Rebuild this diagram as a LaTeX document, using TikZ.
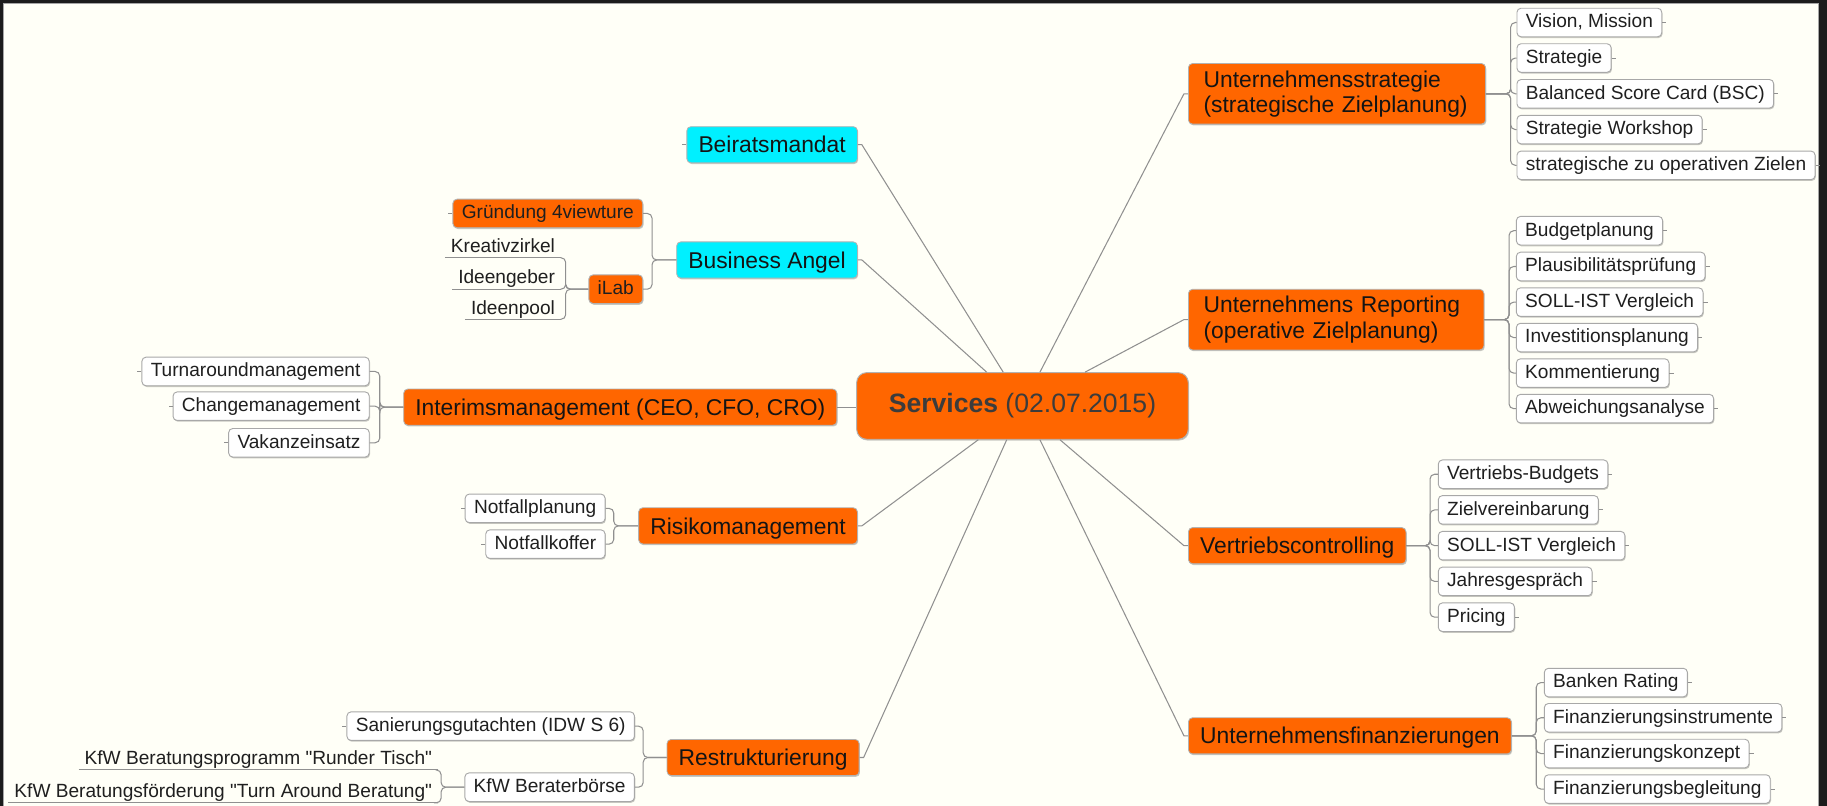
\documentclass[tikz,border=0pt]{standalone}
\usepackage{fontspec}
\setmainfont{Liberation Sans}[Ligatures=TeXOff]
\usetikzlibrary{calc,shadows}
\definecolor{bgc}{HTML}{FFFFF7}
\definecolor{org}{HTML}{FF6600}
\definecolor{cyn}{HTML}{00F0FF}
\definecolor{lnc}{HTML}{909090}
\definecolor{bdc}{HTML}{A8A8A8}
\definecolor{framec}{HTML}{1C1C1C}
\definecolor{ctext}{HTML}{3C3C3C}
\newcommand{\mmMain}{\fontsize{19.6}{21.5}\selectfont}
\newcommand{\mmLeaf}{\fontsize{16.4}{19}\selectfont}
\newcommand{\mmCen}{\fontsize{22.8}{26}\selectfont}
\tikzset{
  shd/.style={drop shadow={shadow xshift=0.7pt,shadow yshift=-1.1pt,opacity=0.22,fill=black}},
  mainbase/.style={rectangle, rounded corners=3.5pt, fill=org, draw=black!30, line width=0.7pt,
    font=\mmMain, text=black!92, inner ysep=0pt, shd},
  mainbox/.style={mainbase, inner xsep=10pt, minimum height=31pt, text height=14pt, text depth=0pt},
  twoline/.style={mainbase, inner xsep=13pt, align=left, minimum height=52pt},
  leafbox/.style={rectangle, rounded corners=3.5pt, fill=white, draw=bdc, line width=0.8pt,
    font=\mmLeaf, text=black!88, inner xsep=7.6pt, inner ysep=0pt, minimum height=24.5pt,
    text height=12pt, text depth=2.8pt, shd},
  orgleaf/.style={leafbox, fill=org, draw=black!30},
  uline/.style={rectangle, font=\mmLeaf, text=black!88, inner xsep=5pt, inner ysep=4.3pt,
    text height=12pt, text depth=0pt},
  conn/.style={draw=lnc, line width=0.9pt},
  brk/.style={conn, rounded corners=4pt},
  tick/.style={draw=lnc, line width=0.7pt},
  centerbox/.style={rectangle, rounded corners=8.5pt, fill=org, draw=black!30, line width=0.8pt,
    font=\mmCen, text=ctext, minimum width=284.6pt, minimum height=57.2pt, shd}
}
\begin{document}
\begin{tikzpicture}[x=1pt,y=-1pt]
\useasboundingbox (0,0) rectangle (1568,691.7);
\fill[framec] (0,0) rectangle (1568,691.7);
\fill[bgc, draw=black!35, line width=0.8pt] (2.6,3.2) rectangle (1560.5,700);

% center
\node[centerbox] (svc) at (877.5,348.4) {\textbf{Services} (02.07.2015)};

% left main topics
\node[mainbox, fill=cyn, anchor=east] (beirat) at (736.2,124.2) {Beiratsmandat};
\node[mainbox, fill=cyn, anchor=east] (angel) at (736.2,223.1) {Business Angel};
\node[mainbox, anchor=east] (interims) at (718.6,349.4) {Interimsmanagement (CEO, CFO, CRO)};
\node[mainbox, anchor=east] (risiko) at (736.2,451.3) {Risikomanagement};
\node[mainbox, anchor=east] (restruk) at (737.7,650.1) {Restrukturierung};

% right main topics
\node[twoline, text width=229pt, anchor=west] (ustrat) at (1019.6,80.5) {Unternehmensstrategie\\(strategische Zielplanung)};
\node[twoline, text width=227.6pt, anchor=west] (urep) at (1019.6,274.3) {Unternehmens Reporting\\(operative Zielplanung)};
\node[mainbox, anchor=west] (vertrieb) at (1019.6,468.3) {Vertriebscontrolling};
\node[mainbox, anchor=west] (ufin) at (1019.6,631.5) {Unternehmensfinanzierungen};

% Business Angel children
\node[orgleaf, anchor=east] (gruend) at (552,183.2) {Gründung 4viewture};
\node[orgleaf, anchor=east] (ilab) at (552,248.2) {iLab};
\node[uline, anchor=south east] (kreativ) at (481.5,221.2) {Kreativzirkel};
\node[uline, anchor=south east] (ideeng) at (481.5,248.2) {Ideengeber};
\node[uline, anchor=south east] (ideenp) at (481.5,274) {Ideenpool};

% Interims children
\node[leafbox, anchor=east] (turn) at (317.3,318.8) {Turnaroundmanagement};
\node[leafbox, anchor=east] (change) at (317.3,348.6) {Changemanagement};
\node[leafbox, anchor=east] (vakanz) at (317.3,380) {Vakanzeinsatz};

% Risiko children
\node[leafbox, anchor=east] (nfplan) at (519.7,436.3) {Notfallplanung};
\node[leafbox, anchor=east] (nfkoff) at (519.7,467) {Notfallkoffer};

% Restrukturierung children
\node[leafbox, anchor=east] (sanier) at (544.9,623.2) {Sanierungsgutachten (IDW S 6)};
\node[leafbox, anchor=east] (kfwb) at (544.9,675.6) {KfW Beraterbörse};
\node[uline, anchor=south east] (runder) at (376,660.8) {KfW Beratungsprogramm "Runder Tisch"};
\node[uline, anchor=south east] (turnar) at (376,689) {KfW Beratungsförderung "Turn Around Beratung"};

% Unternehmensstrategie children
\node[leafbox, anchor=west] (vision) at (1301.5,19.3) {Vision, Mission};
\node[leafbox, anchor=west] (strat) at (1301.5,49.8) {Strategie};
\node[leafbox, anchor=west] (bsc) at (1301.5,80.5) {Balanced Score Card (BSC)};
\node[leafbox, anchor=west] (work) at (1301.5,111.2) {Strategie Workshop};
\node[leafbox, anchor=west] (zielen) at (1301.5,141.9) {strategische zu operativen Zielen};

% Reporting children
\node[leafbox, anchor=west] (budget) at (1301,198) {Budgetplanung};
\node[leafbox, anchor=west] (plaus) at (1301,228.7) {Plausibilitätsprüfung};
\node[leafbox, anchor=west] (sollA) at (1301,259.3) {SOLL-IST Vergleich};
\node[leafbox, anchor=west] (invest) at (1301,289.7) {Investitionsplanung};
\node[leafbox, anchor=west] (komm) at (1301,320.2) {Kommentierung};
\node[leafbox, anchor=west] (abw) at (1301,350.7) {Abweichungsanalyse};

% Vertrieb children
\node[leafbox, anchor=west] (vbud) at (1234,407) {Vertriebs-Budgets};
\node[leafbox, anchor=west] (zielv) at (1234,437.6) {Zielvereinbarung};
\node[leafbox, anchor=west] (sollB) at (1234,468.3) {SOLL-IST Vergleich};
\node[leafbox, anchor=west] (jahr) at (1234,499) {Jahresgespräch};
\node[leafbox, anchor=west] (pricing) at (1234,529.7) {Pricing};

% Finanzierung children
\node[leafbox, anchor=west] (banken) at (1325,585.8) {Banken Rating};
\node[leafbox, anchor=west] (finin) at (1325,616) {Finanzierungsinstrumente};
\node[leafbox, anchor=west] (finko) at (1325,646.7) {Finanzierungskonzept};
\node[leafbox, anchor=west] (finbe) at (1325,677.2) {Finanzierungsbegleitung};

% center connectors
\draw[conn] (beirat.east) -- ++(3.5,0) -- ($(svc.north)+(-16.5,0)$);
\draw[conn] (angel.east) -- ++(3.5,0) -- ($(svc.north)+(-30.7,0)$);
\draw[conn] (interims.east) -- (interims.east -| svc.west);
\draw[conn] (risiko.east) -- ++(3.5,0) -- ($(svc.south)+(-37.9,0)$);
\draw[conn] (restruk.east) -- ++(3.5,0) -- ($(svc.south)+(-13.5,0)$);
\draw[conn] (ustrat.west) -- ++(-3.5,0) -- ($(svc.north)+(15,0)$);
\draw[conn] (urep.west) -- ++(-3.5,0) -- ($(svc.north)+(53.7,0)$);
\draw[conn] (vertrieb.west) -- ++(-3.5,0) -- ($(svc.south)+(32.2,0)$);
\draw[conn] (ufin.west) -- ++(-3.5,0) -- ($(svc.south)+(15,0)$);

% brackets left
\foreach \c in {gruend,ilab} \draw[brk] (angel.west) -- ++(-20.8,0) |- (\c.east);
\foreach \c in {kreativ,ideeng,ideenp} \draw[brk] (ilab.west) -- ++(-19.5,0) |- (\c.south east);
\foreach \c in {kreativ,ideeng,ideenp,runder,turnar} \draw[conn] (\c.south west) -- (\c.south east);
\foreach \c in {turn,change,vakanz} \draw[brk] (interims.west) -- ++(-20.2,0) |- (\c.east);
\foreach \c in {nfplan,nfkoff} \draw[brk] (risiko.west) -- ++(-21,0) |- (\c.east);
\foreach \c in {sanier,kfwb} \draw[brk] (restruk.west) -- ++(-20.1,0) |- (\c.east);
\foreach \c in {runder,turnar} \draw[brk] (kfwb.west) -- ++(-20,0) |- (\c.south east);

% brackets right
\foreach \c in {vision,strat,bsc,work,zielen} \draw[brk] (ustrat.east) -- ++(21.2,0) |- (\c.west);
\foreach \c in {budget,plaus,sollA,invest,komm,abw} \draw[brk] (urep.east) -- ++(21.2,0) |- (\c.west);
\foreach \c in {vbud,zielv,sollB,jahr,pricing} \draw[brk] (vertrieb.east) -- ++(20.3,0) |- (\c.west);
\foreach \c in {banken,finin,finko,finbe} \draw[brk] (ufin.east) -- ++(21,0) |- (\c.west);

% ticks
\foreach \c in {beirat,gruend,turn,change,vakanz,nfplan,nfkoff,sanier} \draw[tick] (\c.west) -- ++(-3.5,0);
\foreach \c in {vision,strat,bsc,work,zielen,budget,plaus,sollA,invest,komm,abw,vbud,zielv,sollB,jahr,pricing,banken,finin,finko,finbe} \draw[tick] (\c.east) -- ++(3.5,0);
\end{tikzpicture}
\end{document}
